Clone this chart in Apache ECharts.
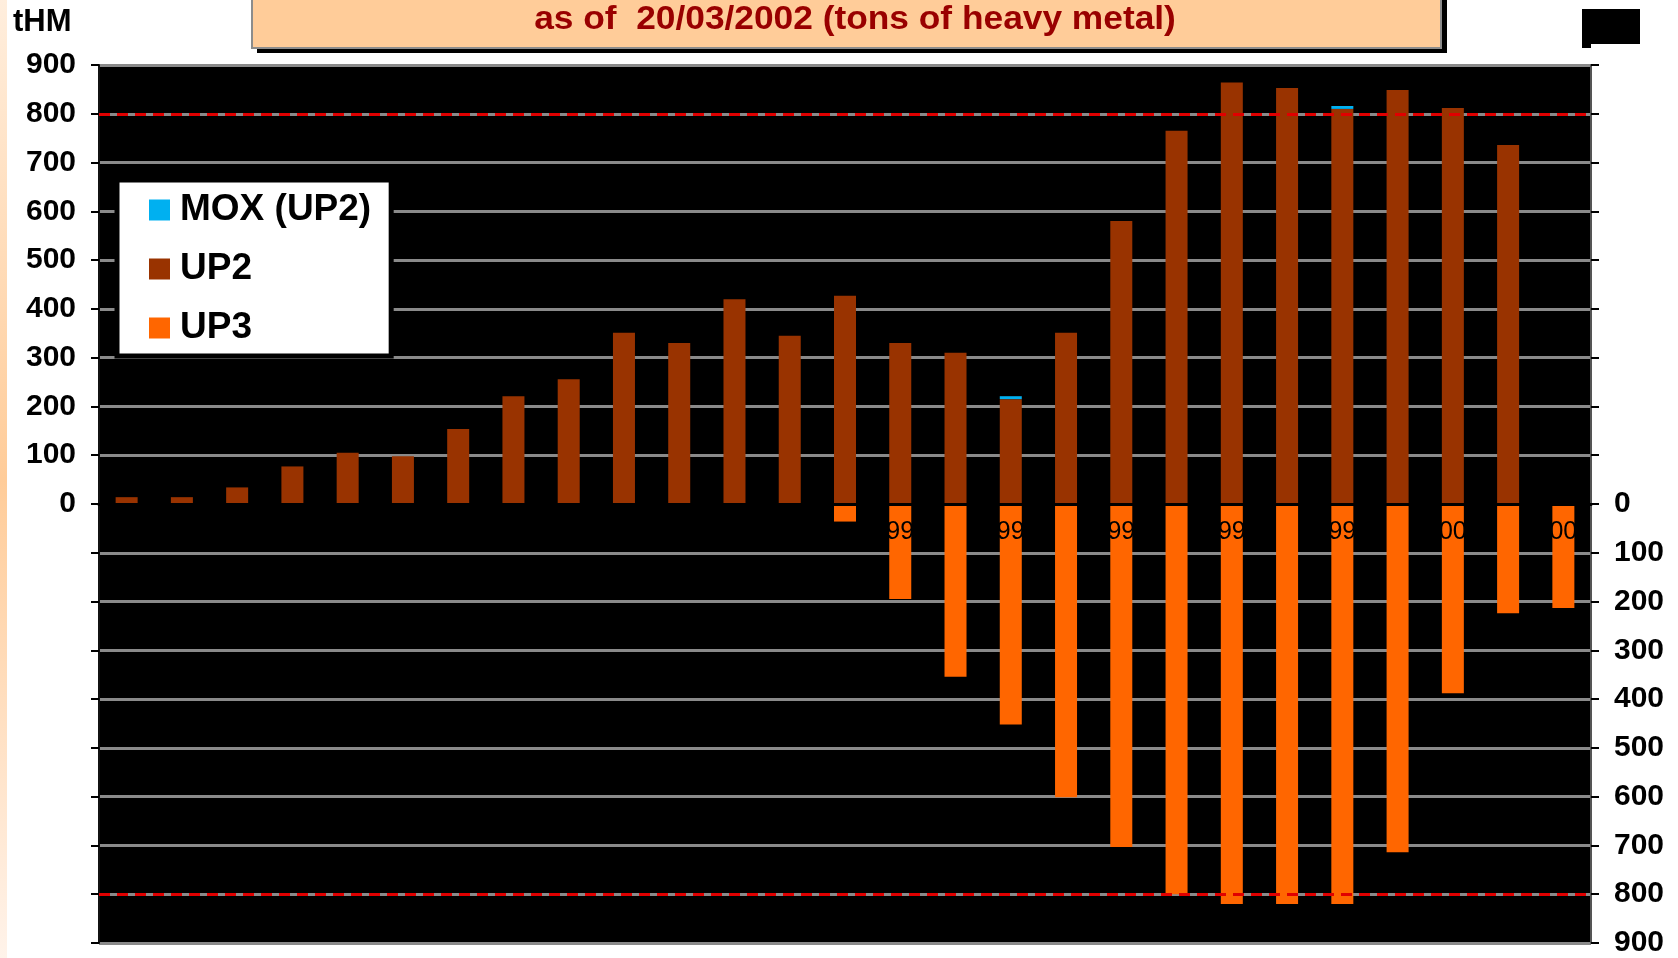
<!DOCTYPE html>
<html>
<head>
<meta charset="utf-8">
<script src="https://cdn.jsdelivr.net/npm/echarts@6/dist/echarts.min.js"></script>
<style>
html,body{margin:0;padding:0;background:#fff;}
#chart{width:1678px;height:958px;}
</style>
</head>
<body>
<div id="chart"></div>
<script>
// ---- data ----
var years = ['1976','1977','1978','1979','1980','1981','1982','1983','1984','1985','1986','1987','1988','1989',
             '1990','1991','1992','1993','1994','1995','1996','1997','1998','1999','2000','2001','2002'];
var up2 = [14, 14, 34, 77, 105, 98, 154, 221, 256, 351, 330, 420, 345, 427,
           330, 310, 215, 351, 580, 765, 864, 853, 810, 849, 812, 736, 0];
var mox = [0, 0, 0, 0, 0, 0, 0, 0, 0, 0, 0, 0, 0, 0,
           0, 0, 6, 0, 0, 0, 0, 0, 6, 0, 0, 0, 0];
// UP3 tonnages (plotted downward)
var up3 = [0, 0, 0, 0, 0, 0, 0, 0, 0, 0, 0, 0, 0, 36,
           195, 354, 452, 601, 703, 800, 820, 820, 820, 714, 388, 224, 213];
var limitLines = [800, -800];
var titleText = 'as of  20/03/2002 (tons of heavy metal)';
var unitText = 'tHM';

var FONT = "'Liberation Sans', Arial, sans-serif";
var chart = echarts.init(document.getElementById('chart'), null, {renderer: 'canvas'});

var GRID_TOP = 65, GRID_BOTTOM = 15, GRID_H = 958 - GRID_TOP - GRID_BOTTOM;

var option = {
  backgroundColor: '#fff',
  animation: false,
  textStyle: {fontFamily: FONT},
  grid: {left: 99, right: 87, top: GRID_TOP, bottom: GRID_BOTTOM, show: true, backgroundColor: '#000', borderWidth: 0,
         containLabel: false, outerBoundsMode: 'none'},
  legend: {
    data: ['MOX (UP2)', 'UP2', 'UP3'],
    orient: 'vertical',
    left: 117, top: 180,
    backgroundColor: '#fff',
    borderColor: '#000', borderWidth: 5,
    padding: [10, 20, 8, 32],
    itemWidth: 21, itemHeight: 21, itemGap: 19,
    icon: 'rect',
    textStyle: {fontSize: 37, fontWeight: 'bold', color: '#000', fontFamily: FONT, lineHeight: 40, padding: [0,0,0,5]}
  },
  xAxis: {
    type: 'category',
    data: years,
    z: 10,
    position: 'bottom',
    offset: -GRID_H / 2,   // place the category axis on the zero line (symmetric ±900 scale)
    axisLine: {show: true, onZero: false, lineStyle: {color: '#000', width: 3}},
    axisTick: {show: false},
    axisLabel: {show: true, interval: 1, color: '#000', fontSize: 25, margin: 16, fontFamily: FONT, hideOverlap: false},
    splitLine: {show: false}
  },
  yAxis: [
    {
      type: 'value', position: 'left', min: -900, max: 900, interval: 100,
      axisLine: {show: true, lineStyle: {color: '#111', width: 2}},
      axisTick: {show: true, length: 8, lineStyle: {color: '#000', width: 2}},
      axisLabel: {fontSize: 30, fontWeight: 'bold', color: '#000', margin: 23, fontFamily: FONT,
                  formatter: function (v) { return v >= 0 ? String(v) : ''; }},
      splitLine: {show: true, lineStyle: {color: '#8a8a8a', width: 3}}
    },
    {
      type: 'value', position: 'right', min: -900, max: 900, interval: 100,
      axisLine: {show: true, lineStyle: {color: '#555', width: 2}},
      axisTick: {show: true, length: 8, lineStyle: {color: '#000', width: 2}},
      axisLabel: {fontSize: 30, fontWeight: 'bold', color: '#000', margin: 23, fontFamily: FONT,
                  formatter: function (v) { return v <= 0 ? String(-v) : ''; }},
      splitLine: {show: false}
    }
  ],
  series: [
    {name: 'UP2', type: 'bar', stack: 'all', barWidth: 22, data: up2,
     itemStyle: {color: '#993300'}},
    {name: 'MOX (UP2)', type: 'bar', stack: 'all', barWidth: 22, data: mox,
     itemStyle: {color: '#00B0F0'}},
    {name: 'UP3', type: 'bar', stack: 'all', barWidth: 22,
     data: up3.map(function (v) { return -v; }),
     itemStyle: {color: '#FF6600'},
     markLine: {
       silent: true, symbol: 'none', label: {show: false},
       lineStyle: {color: '#E00000', type: [11, 7], width: 3},
       data: limitLines.map(function (v) { return {yAxis: v}; })
     }}
  ],
  graphic: [
    {type: 'rect', left: 0, top: 0, z: 1, shape: {width: 7, height: 958},
     style: {fill: new echarts.graphic.LinearGradient(0, 0, 0, 1, [
       {offset: 0, color: '#FFEEDD'}, {offset: 0.5, color: '#FFCC99'}, {offset: 1, color: '#FFF3EA'}])}},
    {type: 'rect', z: 1, shape: {x: 257, y: -10, width: 1190, height: 63}, style: {fill: '#000'}},
    {type: 'rect', z: 2, shape: {x: 252, y: -10, width: 1189, height: 58},
     style: {fill: '#FFCC99', stroke: '#8c8c8c', lineWidth: 2}},
    {type: 'text', z: 3, x: 855, y: 20, scaleX: 1.07, originX: 0, originY: 0,
     style: {text: titleText, fontSize: 33, fontWeight: 'bold', fill: '#990000', fontFamily: FONT,
             textAlign: 'center', textVerticalAlign: 'middle'}},
    {type: 'text', z: 3, x: 13, y: 22,
     style: {text: unitText, fontSize: 31, fontWeight: 'bold', fill: '#000', fontFamily: FONT,
             textAlign: 'left', textVerticalAlign: 'middle'}},
    {type: 'rect', z: 3, shape: {x: 1582, y: 9, width: 58, height: 35}, style: {fill: '#000'}},
    {type: 'rect', z: 3, shape: {x: 1582, y: 44, width: 9, height: 4}, style: {fill: '#000'}}
  ]
};
chart.setOption(option);
</script>
</body>
</html>
